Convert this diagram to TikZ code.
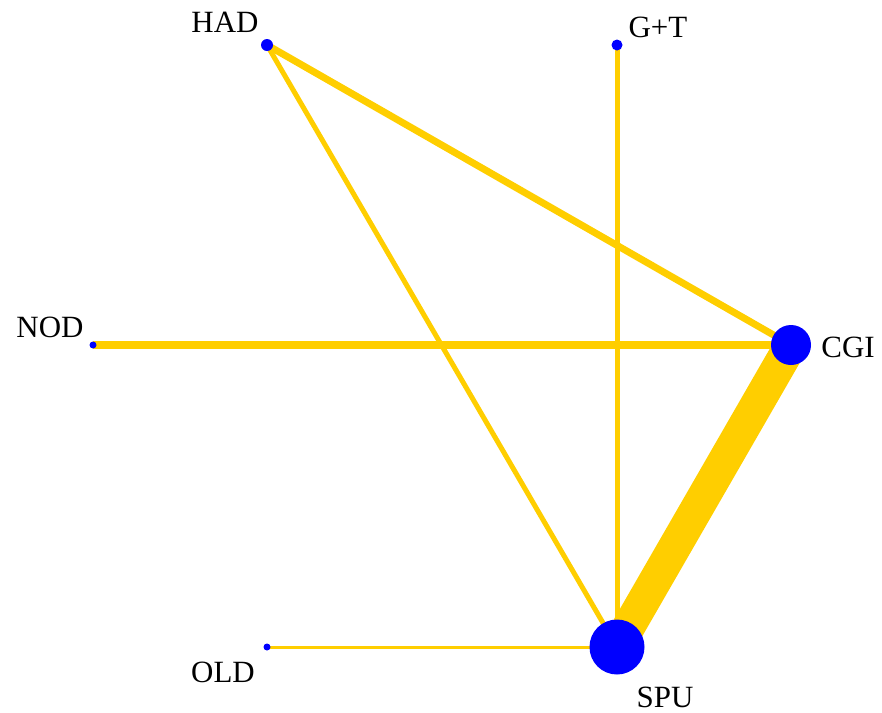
\documentclass[tikz,border=0pt]{standalone}
\usepackage{fontspec}
\setmainfont{Liberation Serif}
\usetikzlibrary{backgrounds}
\definecolor{edgegold}{RGB}{255,206,0}

\begin{document}
\begin{tikzpicture}[x=0.025cm, y=-0.025cm,
    vert/.style={circle, fill=blue, inner sep=0pt},
    lbl/.style={inner sep=0pt, font=\fontsize{22}{26}\selectfont},
    link/.style={draw=edgegold, line cap=butt}]
  \useasboundingbox (0,0) rectangle (882,712);
  % vertices
  \node[vert, minimum size=12*0.025cm] (HAD) at (267,45) {};
  \node[vert, minimum size=11*0.025cm] (GT) at (617,45) {};
  \node[vert, minimum size=7*0.025cm] (NOD) at (93,345) {};
  \node[vert, minimum size=40*0.025cm] (CGI) at (791,345) {};
  \node[vert, minimum size=55*0.025cm] (SPU) at (617,647) {};
  \node[vert, minimum size=7*0.025cm] (OLD) at (267,647) {};
  % labels
  \node[lbl] (HADl) at (225,22) {HAD};
  \node[lbl] (GTl) at (658,27) {G+T};
  \node[lbl] (NODl) at (50,327) {NOD};
  \node[lbl] (CGIl) at (848,347) {CGI};
  \node[lbl] (SPUl) at (665,697) {SPU};
  \node[lbl] (OLDl) at (223,672) {OLD};
  % edges
  \begin{scope}[on background layer]
    \draw[link, line width=7*0.025cm] (HAD.center) -- (CGI.center);
    \draw[link, line width=5*0.025cm] (HAD.center) -- (SPU.center);
    \draw[link, line width=5*0.025cm] (GT.center) -- (SPU.center);
    \draw[link, line width=8*0.025cm] (NOD.center) -- (CGI.center);
    \draw[link, line width=33*0.025cm] (CGI.center) -- (SPU.center);
    \draw[link, line width=3*0.025cm] (OLD.center) -- (SPU.center);
  \end{scope}
\end{tikzpicture}
\end{document}
